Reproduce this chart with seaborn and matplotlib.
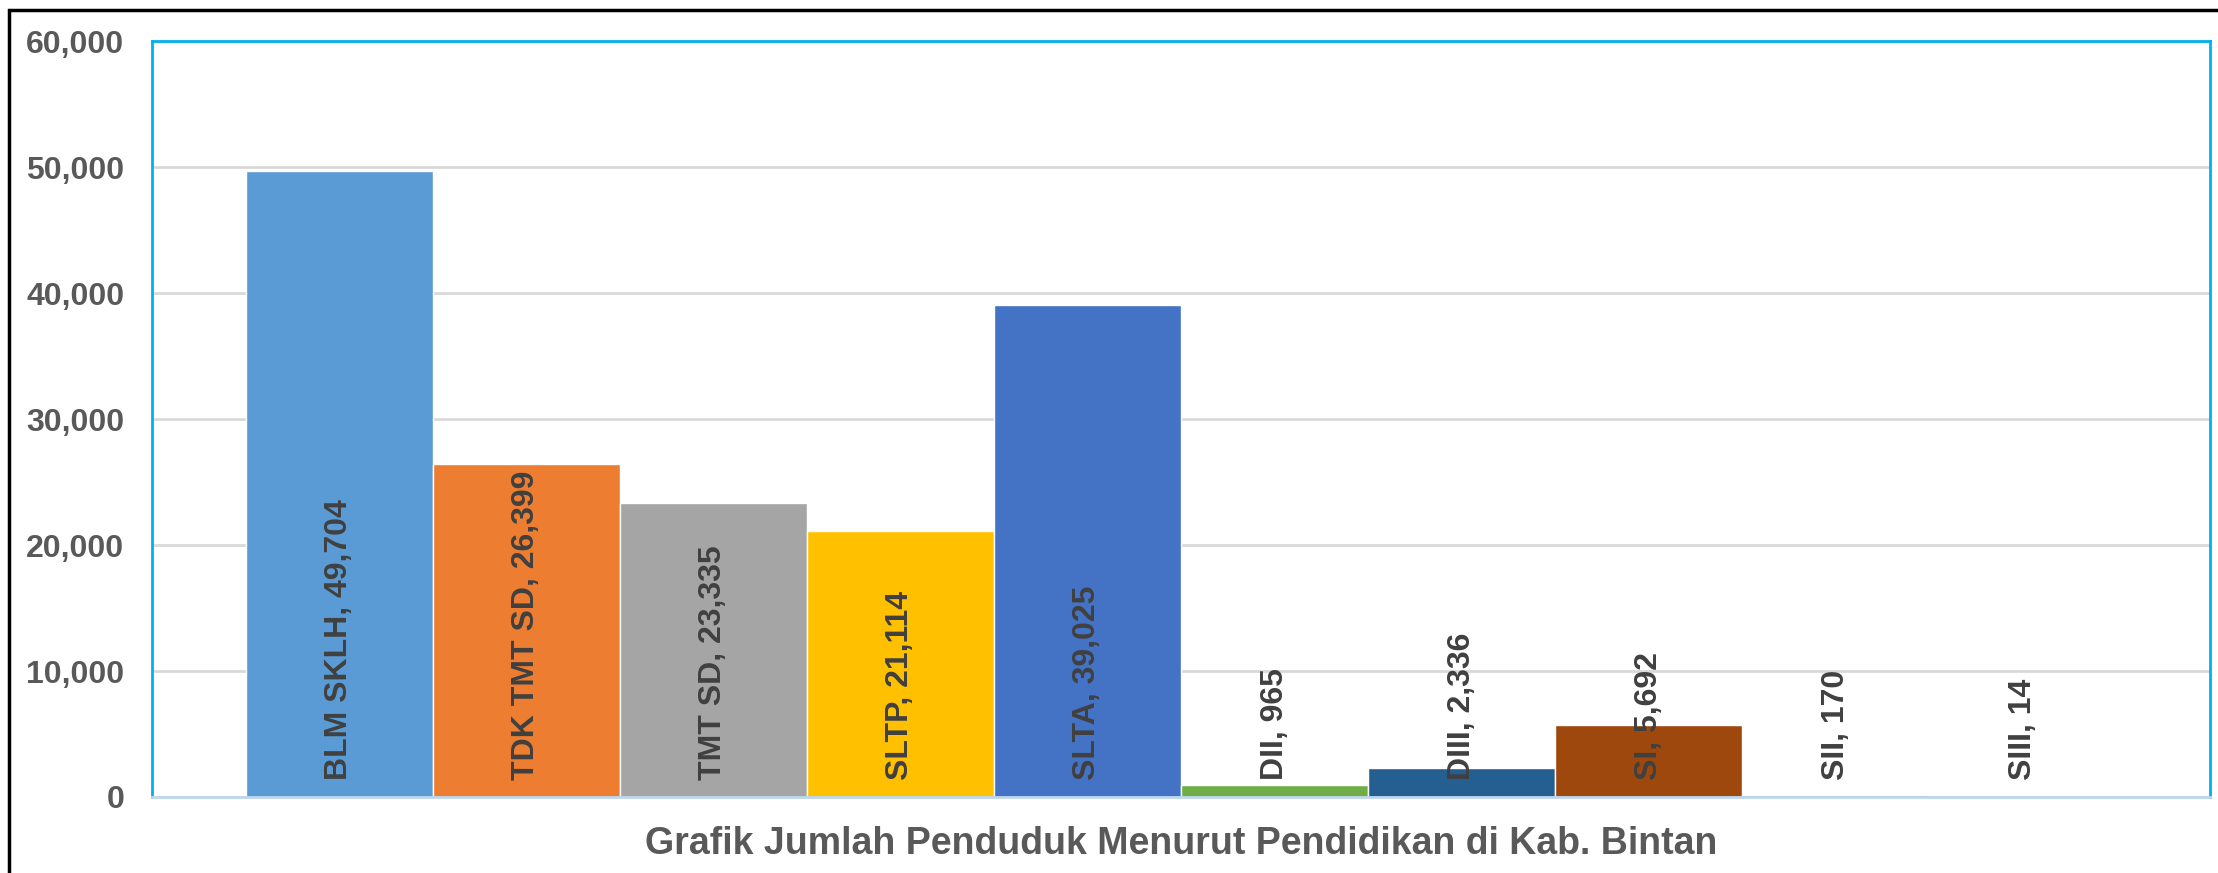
import matplotlib
matplotlib.use("Agg")
import seaborn as sns
import matplotlib.pyplot as plt
from matplotlib.patches import Rectangle
from matplotlib.ticker import FuncFormatter

categories = ["BLM SKLH", "TDK TMT SD", "TMT SD", "SLTP", "SLTA",
              "DII", "DIII", "SI", "SII", "SIII"]
values = [49704, 26399, 23335, 21114, 39025, 965, 2336, 5692, 170, 14]
colors = ["#5B9BD5", "#ED7D31", "#A5A5A5", "#FFC000", "#4472C4",
          "#70AD47", "#255E91", "#9E480E", "#636363", "#997300"]
y_ticks = [0, 10000, 20000, 30000, 40000, 50000, 60000]
title = "Grafik Jumlah Penduduk Menurut Pendidikan di Kab. Bintan"

sns.set_style("white")
plt.rcParams['font.family'] = ['Liberation Sans', 'DejaVu Sans']

W, H = 2218, 873
fig = plt.figure(figsize=(W / 100, H / 100), dpi=100)
ax = fig.add_axes([152 / W, 1 - 797 / H, (2210 - 152) / W, (797 - 41) / H])

sns.barplot(x=categories, y=values, hue=categories, palette=colors,
            width=1.0, legend=False, ax=ax, saturation=1, order=categories)

ax.set_xlim(-1, len(categories))
ax.set_ylim(0, 60000)
ax.set_yticks(y_ticks)
ax.yaxis.set_major_formatter(FuncFormatter(lambda v, p: f"{int(v):,}"))
ax.set_xticks([])
ax.set_xlabel("")
ax.set_ylabel("")
ax.grid(axis='y', color='#D9D9D9', linewidth=2)
ax.set_axisbelow(True)
for s in ax.spines.values():
    s.set_color('#00B0F0')
    s.set_linewidth(2)
ax.spines['bottom'].set_color('#BDD7EE')
ax.tick_params(axis='y', length=0, pad=20, labelsize=23, labelcolor='#595959')
for lbl in ax.get_yticklabels():
    lbl.set_fontweight('bold')

for i, (c, v) in enumerate(zip(categories, values)):
    ax.annotate(f"{c}, {v:,}", xy=(i, 0), xytext=(0, 12), textcoords='offset points',
                rotation=90, ha='center', va='bottom', fontsize=23,
                fontweight='bold', color='#404040')

fig.text(1181 / W, 1 - 844 / H, title, ha='center', va='center',
         fontsize=27, fontweight='bold', color='#595959',
         family=['Liberation Sans Narrow', 'Liberation Sans'])

# outer chart border
fig.patches.append(Rectangle((9 / W, -0.1), 1.2, 1 - 10 / H + 0.1,
                             transform=fig.transFigure, fill=False,
                             edgecolor='black', linewidth=2.5))

fig.savefig("out.png", dpi=100)
